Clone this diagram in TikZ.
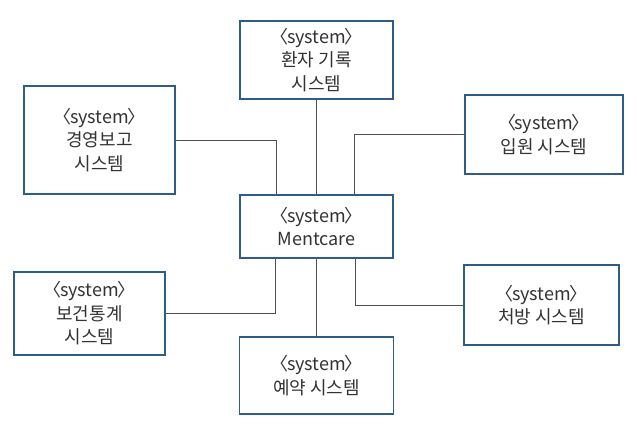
\documentclass[tikz,border=0pt]{standalone}
\usepackage{fontspec}
\setmainfont{Noto Sans CJK KR}
\begin{document}
\begin{tikzpicture}[x=1pt,y=-1pt,
  sysbox/.style={draw=boxblue,line width=1.7pt,fill=white,align=center,
    inner sep=0pt,text=txtgray,font=\fontsize{18}{23.5}\selectfont},
  link/.style={draw=linegray,line width=0.9pt}]
\definecolor{boxblue}{HTML}{2F5D88}
\definecolor{txtgray}{HTML}{333333}
\definecolor{linegray}{HTML}{505050}
\newcommand{\stereo}{\kern-0.35em〈\kern-0.1emsystem\kern-0.1em〉\kern-0.35em}
\useasboundingbox (0,0) rectangle (637,433);
\fill[white] (0,0) rectangle (637,433);
\node[sysbox,minimum width=153pt,minimum height=78pt] (hj) at (316.5,60) {\stereo\\환자 기록\\시스템};
\node[sysbox,minimum width=151pt,minimum height=108pt] (kb) at (99.5,140) {\stereo\\경영보고\\시스템};
\node[sysbox,minimum width=158pt,minimum height=79pt] (ip) at (544,134.5) {\stereo\\입원 시스템};
\node[sysbox,minimum width=153pt,minimum height=63pt] (ment) at (316.5,226.5) {\stereo\\Mentcare};
\node[sysbox,minimum width=151pt,minimum height=83pt] (bg) at (89.5,313.5) {\stereo\\보건통계\\시스템};
\node[sysbox,minimum width=155pt,minimum height=80pt] (cb) at (541.5,305) {\stereo\\처방 시스템};
\node[sysbox,minimum width=154pt,minimum height=77pt] (yy) at (316.5,375.5) {\stereo\\예약 시스템};
\draw[link] (hj.south) -- (ment.north);
\draw[link] (ment.south) -- (yy.north);
\draw[link] (kb.east) -| ([xshift=-40pt]ment.north);
\draw[link] (ip.west) -| ([xshift=38pt]ment.north);
\draw[link] (bg.east) -| ([xshift=-41pt]ment.south);
\draw[link] (cb.west) -| ([xshift=39pt]ment.south);
\end{tikzpicture}
\end{document}
